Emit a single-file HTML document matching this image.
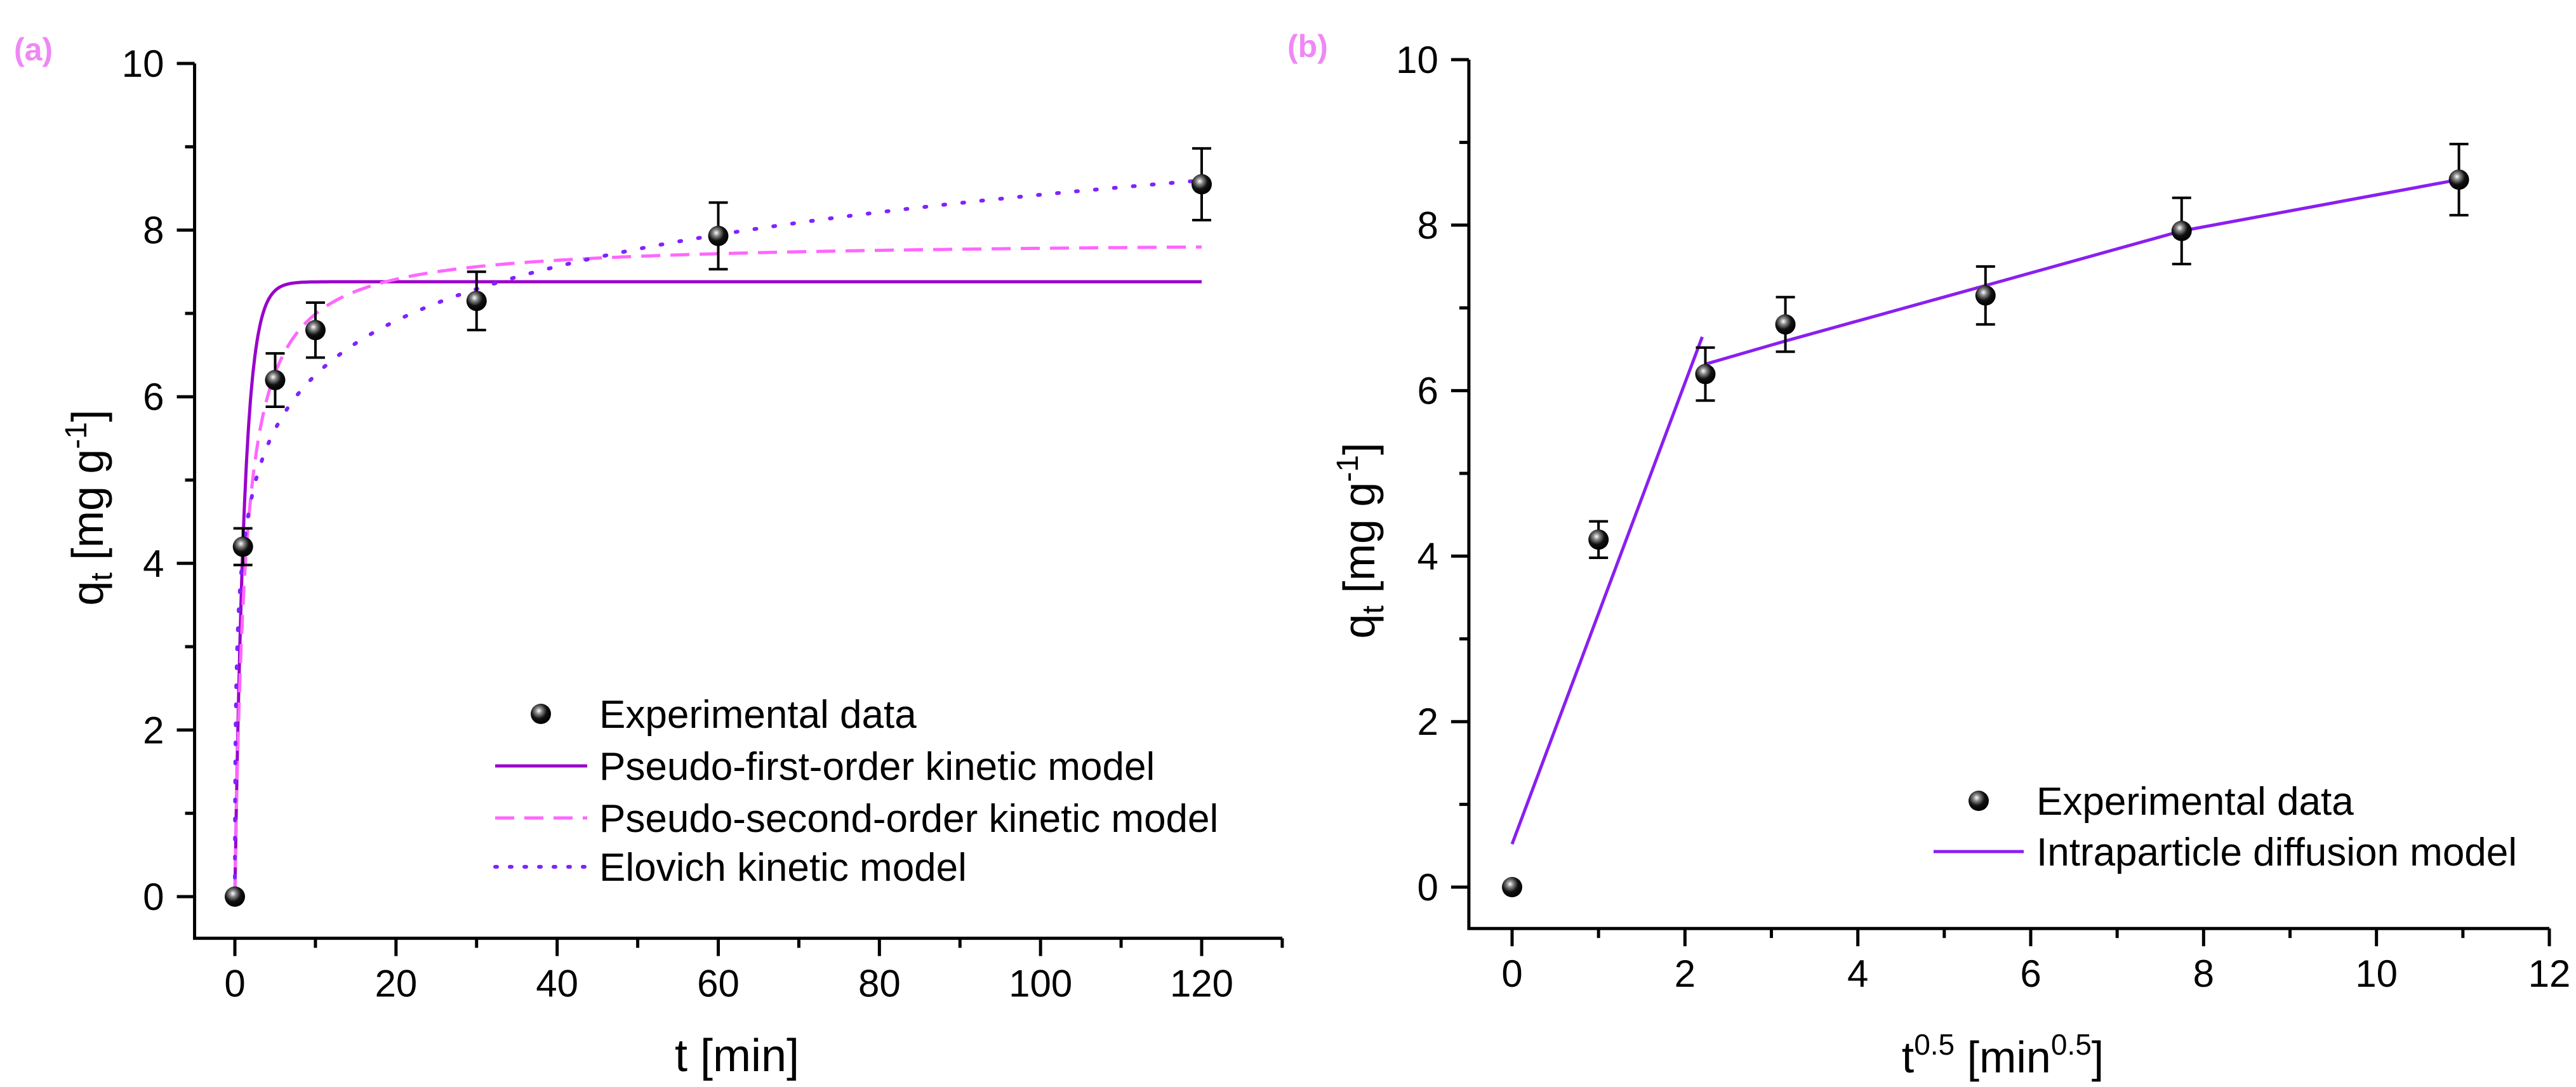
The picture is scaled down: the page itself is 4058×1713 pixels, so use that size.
<!DOCTYPE html>
<html><head><meta charset="utf-8"><style>
html,body{margin:0;padding:0;background:#fff;}
svg{display:block;font-family:"Liberation Sans",Arial,sans-serif;}
</style></head><body>
<svg id="fig" width="4058" height="1713" viewBox="0 0 4058 1713" xmlns="http://www.w3.org/2000/svg">
<defs>
<radialGradient id="ball" cx="0.4" cy="0.35" r="0.65">
<stop offset="0" stop-color="#ffffff"/><stop offset="0.25" stop-color="#888"/><stop offset="0.6" stop-color="#111"/><stop offset="1" stop-color="#000"/>
</radialGradient>
</defs>
</svg>
<script>
// ---- data (panel a) ----
const tMin = [0, 1, 5, 10, 30, 60, 120];
const qExp = [0, 4.2, 6.2, 6.8, 7.15, 7.93, 8.55];
const qErr = [0, 0.22, 0.32, 0.33, 0.35, 0.4, 0.43];
const pfoParams = [7.38, 0.85];      // qe, k1
const psoParams = [7.88, 0.1];       // qe, k2
const elovichParams = [0.94, 78];    // 1/beta, alpha*beta
const xTicksA = [0, 20, 40, 60, 80, 100, 120];
const yTicks = [0, 2, 4, 6, 8, 10];
// ---- data (panel b) ----
const sqrtT = [0, 1, 2.236, 3.162, 5.477, 7.746, 10.954];
const qExpB = [0, 4.2, 6.2, 6.8, 7.15, 7.93, 8.55];
const qErrB = [0, 0.22, 0.32, 0.33, 0.35, 0.4, 0.43];
const ipdSeg1X = [0, 2.2];
const ipdSeg1Y = [0.52, 6.65];
const ipdSeg2X = [2.236, 3.162, 5.477, 7.746, 10.954];
const ipdSeg2Y = [6.32, 6.6, 7.27, 7.93, 8.55];
const xTicksB = [0, 2, 4, 6, 8, 10, 12];

const NS = "http://www.w3.org/2000/svg";
const svg = document.getElementById('fig');
function mk(tag, attrs, parent, text){
  const e = document.createElementNS(NS, tag);
  for (const k in attrs) e.setAttribute(k, attrs[k]);
  if (text !== undefined) e.textContent = text;
  (parent || svg).appendChild(e);
  return e;
}
function scale(d0, d1, r0, r1){ return v => r0 + (v - d0) * (r1 - r0) / (d1 - d0); }

function axes(P, g){
  const X = P.X, Y = P.Y;
  const ax = mk('path', {d:`M${X(P.xmin)} ${Y(P.ymax)} L${X(P.xmin)} ${Y(P.ymin)} L${X(P.xmax)} ${Y(P.ymin)}`, stroke:'#000','stroke-width':5, fill:'none'}, g);
  
  
  for (let v = 0; v <= 10.001; v += 1) {
    const major = Math.abs(v % 2) < 1e-6;
    const t = mk('line', {x1:X(P.xmin), x2:X(P.xmin) - (major ? 28 : 15), y1:Y(v), y2:Y(v), stroke:'#000','stroke-width':5}, g);
    
    
  }
  yTicks.forEach(v => {
    const l = mk('text', {x:X(P.xmin) - 48, y:Y(v) + 21, 'font-size':60, 'text-anchor':'end', fill:'#000'}, g, String(v));
    
    
  });
  for (let v = P.xTicks[0]; v <= P.xmax + 1e-6; v += P.minor) {
    const major = P.xTicks.some(m => Math.abs(m - v) < 1e-6);
    const t = mk('line', {x1:X(v), x2:X(v), y1:Y(P.ymin), y2:Y(P.ymin) + (major ? 28 : 15), stroke:'#000','stroke-width':5}, g);
    
    
  }
  P.xTicks.forEach(v => {
    const l = mk('text', {x:X(v), y:Y(P.ymin) + 92, 'font-size':60, 'text-anchor':'middle', fill:'#000'}, g, String(v));
    
    
  });
}
function points(P, g, xs, ys, es){
  xs.forEach((x, i) => {
    if (es[i] > 0) {
      const eb = mk('path', {d:`M${P.X(x)} ${P.Y(ys[i]-es[i])} L${P.X(x)} ${P.Y(ys[i]+es[i])} M${P.X(x)-15} ${P.Y(ys[i]-es[i])} h30 M${P.X(x)-15} ${P.Y(ys[i]+es[i])} h30`, stroke:'#000','stroke-width':4, fill:'none'}, g);
      
      
    }
    const c = mk('circle', {cx:P.X(x), cy:P.Y(ys[i]), r:16, fill:'url(#ball)'}, g);
    
    
  });
}
function curve(P, g, f, x0, x1, n, attrs, name){
  let d = '';
  for (let i = 0; i <= n; i++) {
    const x = x0 + (x1 - x0) * Math.pow(i / n, 2);
    d += (i ? 'L' : 'M') + P.X(x).toFixed(1) + ' ' + P.Y(f(x)).toFixed(1);
  }
  const p = mk('path', Object.assign({d, fill:'none'}, attrs), g);
  
  
}
function poly(P, g, xs, ys, attrs, name){
  const d = xs.map((x, i) => (i ? 'L' : 'M') + P.X(x) + ' ' + P.Y(ys[i])).join('');
  const p = mk('path', Object.assign({d, fill:'none'}, attrs), g);
  
  
}
function ylabel(g, x, y){
  const t = mk('text', {transform:`translate(${x},${y}) rotate(-90)`, 'font-size':70, 'text-anchor':'middle', fill:'#000'}, g);
  
  
  mk('tspan', {}, t, 'q');
  mk('tspan', {'font-size':48, dy:14}, t, 't');
  mk('tspan', {dy:-14}, t, ' [mg g');
  mk('tspan', {'font-size':48, dy:-26}, t, '-1');
  mk('tspan', {dy:26}, t, ']');
}
const PFO = '#9900cc', PSO = '#ff66ff', ELO = '#8022ff', IPD = '#8a1ff0';

// ---------- Panel a ----------
const gA = mk('g', {});


const PA = {xmin:-5, xmax:130, ymin:-0.5, ymax:10, xTicks:xTicksA, minor:10};
PA.X = scale(0, 120, 370, 1893); PA.Y = scale(0, 10, 1413, 100);
const la = mk('text', {x:22, y:95, 'font-size':50, 'font-weight':'bold', fill:'#ee88f5'}, gA, '(a)');


axes(PA, gA);
curve(PA, gA, t => pfoParams[0]*(1-Math.exp(-pfoParams[1]*t)), 0, 120, 300, {stroke:PFO,'stroke-width':5}, 'pseudo-first-order-curve');
curve(PA, gA, t => psoParams[1]*psoParams[0]*psoParams[0]*t/(1+psoParams[1]*psoParams[0]*t), 0, 120, 300, {stroke:PSO,'stroke-width':5,'stroke-dasharray':'30 16'}, 'pseudo-second-order-curve');
curve(PA, gA, t => elovichParams[0]*Math.log(1+elovichParams[1]*t), 0, 120, 400, {stroke:ELO,'stroke-width':6,'stroke-dasharray':'3 27','stroke-linecap':'round'}, 'elovich-curve');
points(PA, gA, tMin, qExp, qErr);
const xtA = mk('text', {x:1161, y:1688, 'font-size':72, 'text-anchor':'middle', fill:'#000'}, gA, 't [min]');


ylabel(gA, 162, 800);
// legend a
const legA = mk('g', {});


const ea = mk('circle', {cx:852, cy:1125, r:16, fill:'url(#ball)'}, legA);


[[1207,{stroke:PFO,'stroke-width':5}],[1289,{stroke:PSO,'stroke-width':5,'stroke-dasharray':'30 16'}],[1366,{stroke:ELO,'stroke-width':6,'stroke-dasharray':'3 20','stroke-linecap':'round'}]].forEach(r => {
  const l = mk('line', Object.assign({x1:780, x2:925, y1:r[0], y2:r[0]}, r[1]), legA);
  
  
});
['Experimental data','Pseudo-first-order kinetic model','Pseudo-second-order kinetic model','Elovich kinetic model'].forEach((s, i) => {
  const t = mk('text', {x:944, y:[1125,1207,1289,1366][i] + 22, 'font-size':62, fill:'#000'}, legA, s);
  
  
});

// ---------- Panel b ----------
const gB = mk('g', {});


const PB = {xmin:-0.5, xmax:12, ymin:-0.5, ymax:10, xTicks:xTicksB, minor:1};
PB.X = scale(0, 12, 2382, 4016); PB.Y = scale(0, 10, 1398, 94);
const lb = mk('text', {x:2028, y:90, 'font-size':50, 'font-weight':'bold', fill:'#ee88f5'}, gB, '(b)');


axes(PB, gB);
poly(PB, gB, ipdSeg1X, ipdSeg1Y, {stroke:IPD,'stroke-width':5}, 'intraparticle-segment-1');
poly(PB, gB, ipdSeg2X, ipdSeg2Y, {stroke:IPD,'stroke-width':5}, 'intraparticle-segment-2');
points(PB, gB, sqrtT, qExpB, qErrB);
const xtB = mk('text', {x:3155, y:1690, 'font-size':70, 'text-anchor':'middle', fill:'#000'}, gB);


mk('tspan', {}, xtB, 't');
mk('tspan', {'font-size':46, dy:-28}, xtB, '0.5');
mk('tspan', {dy:28}, xtB, ' [min');
mk('tspan', {'font-size':46, dy:-28}, xtB, '0.5');
mk('tspan', {dy:28}, xtB, ']');
ylabel(gB, 2165, 852);
const legB = mk('g', {});


const eb = mk('circle', {cx:3117, cy:1262, r:16, fill:'url(#ball)'}, legB);


const lnb = mk('line', {x1:3046, x2:3188, y1:1342, y2:1342, stroke:IPD,'stroke-width':5}, legB);


['Experimental data','Intraparticle diffusion model'].forEach((s, i) => {
  const t = mk('text', {x:3208, y:[1262,1342][i] + 22, 'font-size':62, fill:'#000'}, legB, s);
  
  
});
</script>
</body></html>
